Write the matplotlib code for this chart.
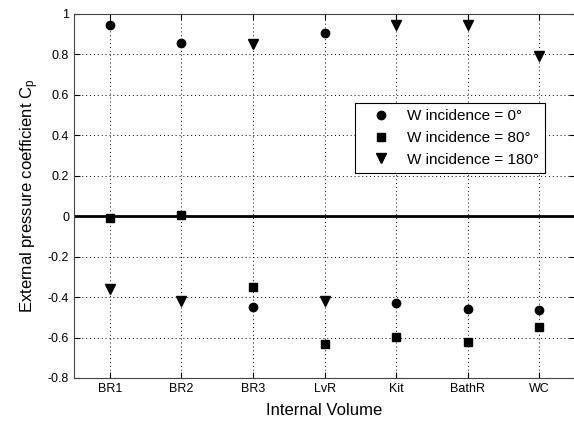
import matplotlib
matplotlib.use("Agg")
import matplotlib.pyplot as plt

plt.rcParams["font.family"] = ["Liberation Sans", "DejaVu Sans"]
plt.rcParams["mathtext.fontset"] = "custom"
plt.rcParams["mathtext.rm"] = "Liberation Sans"
plt.rcParams["mathtext.it"] = "Liberation Sans"

# 數值由原圖讀出
rooms = ["BR1", "BR2", "BR3", "LvR", "Kit", "BathR", "WC"]
cp_0 = [0.945, 0.857, -0.448, 0.908, -0.430, -0.457, -0.462]
cp_80 = [-0.008, 0.004, -0.350, -0.634, -0.598, -0.624, -0.550]
cp_180 = [-0.362, -0.418, 0.854, -0.418, 0.945, 0.945, 0.790]
legend_labels = ["W incidence = 0°", "W incidence = 80°", "W incidence = 180°"]

fig = plt.figure(figsize=(5.74, 4.24), dpi=100)
ax = fig.add_axes([0.129, 0.1085, 0.873, 0.8585])

x = list(range(1, len(rooms) + 1))
ax.plot(x, cp_0, "o", color="black", markersize=6, label=legend_labels[0])
ax.plot(x, cp_80, "s", color="black", markersize=6, label=legend_labels[1])
ax.plot(x, cp_180, "v", color="black", markersize=6.5, label=legend_labels[2])
ax.axhline(0, color="black", linewidth=2)

ax.set_xlim(0.5, 7.5)
ax.set_ylim(-0.8, 1)
ax.set_xticks(x)
ax.set_xticklabels(rooms)
ax.set_yticks([-0.8, -0.6, -0.4, -0.2, 0, 0.2, 0.4, 0.6, 0.8, 1])
ax.set_yticklabels(["-0.8", "-0.6", "-0.4", "-0.2", "0", "0.2", "0.4", "0.6", "0.8", "1"])
ax.tick_params(direction="in", top=True, right=True, labelsize=9, length=4, width=0.8)
ax.grid(True, color="black", linestyle=(0, (1, 3)), linewidth=0.7)

for s in ax.spines.values():
    s.set_linewidth(0.8)
    s.set_color("#444444")

ax.set_xlabel("Internal Volume", fontsize=12, labelpad=6)
ax.set_ylabel("External pressure coefficient C$_\\mathrm{p}$", fontsize=12, labelpad=5)

leg = ax.legend(loc="upper left", bbox_to_anchor=(0.561, 0.755), fontsize=11,
                frameon=True, fancybox=False, edgecolor="black", framealpha=1,
                handlelength=2.6, handletextpad=0.4, borderpad=0.4,
                labelspacing=0.5, borderaxespad=0)
leg.get_frame().set_linewidth(0.8)

fig.savefig("out.png", dpi=100)
